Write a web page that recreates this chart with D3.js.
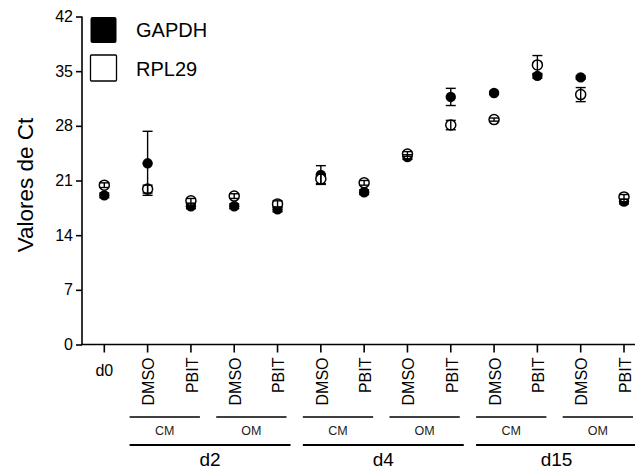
<!DOCTYPE html>
<html lang="es">
<head>
<meta charset="utf-8">
<title>Valores de Ct</title>
<script src="https://cdn.jsdelivr.net/npm/d3@7"></script>
<style>
  body { margin: 0; background: #fff; }
  text { font-family: "Liberation Sans", Arial, sans-serif; fill: #000; }
</style>
</head>
<body>
<script>
// categories along x
const categories = ["d0", "DMSO", "PBIT", "DMSO", "PBIT", "DMSO", "PBIT", "DMSO", "PBIT", "DMSO", "PBIT", "DMSO", "PBIT"];
// mean Ct and SD per category
const gapdh    = [19.1, 23.2, 17.7, 17.7, 17.3, 21.7, 19.5, 24.0, 31.7, 32.2, 34.4, 34.2, 18.3];
const gapdhErr = [0.3, 4.1, 0.3, 0.3, 0.3, 1.2, 0.3, 0.3, 1.1, 0.2, 0.3, 0.2, 0.3];
const rpl29    = [20.4, 19.9, 18.4, 19.0, 18.0, 21.2, 20.7, 24.4, 28.1, 28.8, 35.8, 32.0, 18.9];
const rpl29Err = [0.3, 0.5, 0.3, 0.3, 0.4, 0.6, 0.3, 0.3, 0.6, 0.2, 1.2, 0.9, 0.3];
const yTicks = [0, 7, 14, 21, 28, 35, 42];
// bracket groups under the axis (index ranges)
const subGroups = [["CM", 1, 2], ["OM", 3, 4], ["CM", 5, 6], ["OM", 7, 8], ["CM", 9, 10], ["OM", 11, 12]];
const dayGroups = [["d2", 1, 4], ["d4", 5, 8], ["d15", 9, 12]];

const w = 635, h = 470;
const svg = d3.select("body").append("svg").attr("width", w).attr("height", h);

const x = d3.scaleLinear().domain([0, 12]).range([104.3, 624]);
const y = d3.scaleLinear().domain([0, 42]).range([344.5, 16.5]);

// y axis
const yAxis = svg.append("g").attr("transform", "translate(82,0)")
  .call(d3.axisLeft(y).tickValues(yTicks).tickSize(6).tickPadding(3));
yAxis.select(".domain").attr("stroke-width", 1.6).attr("d", `M0,${y(42)}V${y(0)}`);
yAxis.selectAll(".tick line").attr("stroke-width", 1.6);
yAxis.selectAll(".tick text").style("font-size", "16px").style("font-family", "Liberation Sans, Arial, sans-serif");

// x axis
const xg = svg.append("g").attr("transform", `translate(0,${y(0)})`);
xg.append("line").attr("x1", 81.2).attr("x2", 635).attr("stroke", "#000").attr("stroke-width", 1.6);
xg.selectAll("line.tk").data(categories).join("line")
  .attr("class", "tk")
  .attr("x1", (d, i) => x(i)).attr("x2", (d, i) => x(i))
  .attr("y1", 0).attr("y2", 8)
  .attr("stroke", "#000").attr("stroke-width", 1.6);

xg.selectAll("text.cat").data(categories).join("text")
  .attr("class", "cat")
  .style("font-size", "16px")
  .attr("transform", (d, i) => i === 0 ? `translate(${x(i)},31)` : `translate(${x(i) + 1},13) rotate(-90)`)
  .attr("text-anchor", (d, i) => i === 0 ? "middle" : "end")
  .attr("dy", (d, i) => i === 0 ? 0 : "0.36em")
  .text(d => d);

// sub group brackets
subGroups.forEach(([lab, a, b]) => {
  svg.append("line").attr("x1", x(a) - 18).attr("x2", x(b) + 9)
    .attr("y1", 417).attr("y2", 417).attr("stroke", "#000").attr("stroke-width", 1.3);
  svg.append("text").attr("x", (x(a) - 18 + x(b) + 9) / 2).attr("y", 435)
    .attr("text-anchor", "middle").style("font-size", "12.5px").style("fill", "#222").text(lab);
});
dayGroups.forEach(([lab, a, b]) => {
  svg.append("line").attr("x1", x(a) - 18).attr("x2", Math.min(x(b) + 13, 635))
    .attr("y1", 445).attr("y2", 445).attr("stroke", "#000").attr("stroke-width", 2);
  svg.append("text").attr("x", (x(a) - 18 + x(b) + 13) / 2).attr("y", 466)
    .attr("text-anchor", "middle").style("font-size", "19px").text(lab);
});

// y label
svg.append("text")
  .attr("transform", `translate(33,185) rotate(-90)`)
  .attr("text-anchor", "middle").style("font-size", "22.5px").text("Valores de Ct");

// points
const pts = svg.append("g");
pts.selectAll("circle.g").data(gapdh).join("circle").attr("class", "g")
  .attr("cx", (d, i) => x(i)).attr("cy", d => y(d)).attr("r", 5.2).attr("fill", "#000");
pts.selectAll("circle.r").data(rpl29).join("circle").attr("class", "r")
  .attr("cx", (d, i) => x(i)).attr("cy", d => y(d)).attr("r", 5)
  .attr("fill", "#fff").attr("stroke", "#000").attr("stroke-width", 1.5);

// error bars
function errBars(vals, errs) {
  const g = svg.append("g").attr("stroke", "#000").attr("stroke-width", 1.4);
  vals.forEach((v, i) => {
    const e = errs[i];
    g.append("line").attr("x1", x(i)).attr("x2", x(i)).attr("y1", y(v - e)).attr("y2", y(v + e));
    [v - e, v + e].forEach(c => g.append("line")
      .attr("x1", x(i) - 5).attr("x2", x(i) + 5).attr("y1", y(c)).attr("y2", y(c)));
  });
}
errBars(gapdh, gapdhErr);
errBars(rpl29, rpl29Err);

// legend
const lg = svg.append("g");
lg.append("rect").attr("x", 90.5).attr("y", 17).attr("width", 26).attr("height", 26).attr("rx", 2)
  .attr("fill", "#000");
lg.append("rect").attr("x", 90.5).attr("y", 55).attr("width", 26).attr("height", 26).attr("rx", 1)
  .attr("fill", "#fff").attr("stroke", "#000").attr("stroke-width", 1.3);
lg.append("text").attr("x", 136).attr("y", 37).style("font-size", "20px").text("GAPDH");
lg.append("text").attr("x", 136).attr("y", 76).style("font-size", "20px").text("RPL29");
</script>
</body>
</html>
